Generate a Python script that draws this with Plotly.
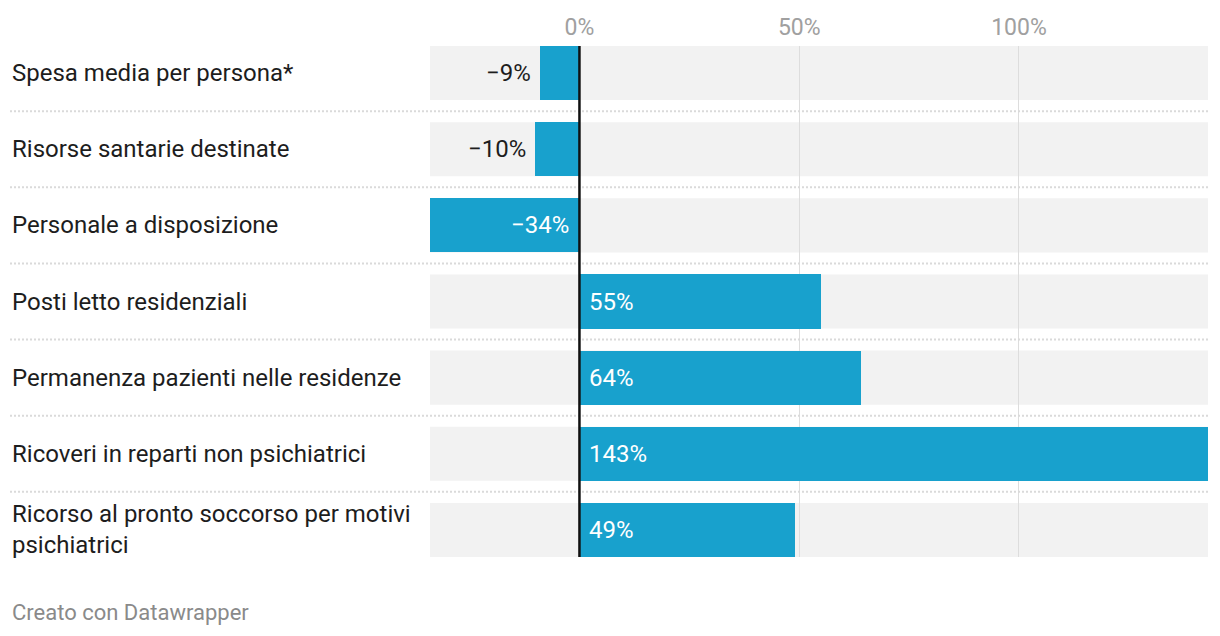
import plotly.graph_objects as go

categories = [
    "Spesa media per persona*",
    "Risorse santarie destinate",
    "Personale a disposizione",
    "Posti letto residenziali",
    "Permanenza pazienti nelle residenze",
    "Ricoveri in reparti non psichiatrici",
    "Ricorso al pronto soccorso per motivi<br>psichiatrici",
]
values = [-9, -10, -34, 55, 64, 143, 49]
tick_vals = [0, 50, 100]
tick_text = ["0%", "50%", "100%"]

BLUE = "#18a1cd"
FONT = "Roboto"
XMIN, XMAX = -34, 143
BW = 54 / 76

W, H = 1220, 636
ML, MR, MT, MB = 430, 12, 46, 79
pw = W - ML - MR
left_paper = (10 - ML) / pw
label_paper = (10 - ML) / pw

idx = list(range(len(categories)))

fig = go.Figure()
fig.add_trace(go.Bar(
    x=values, y=idx, orientation="h", width=BW,
    marker=dict(color=BLUE, line=dict(width=0)),
    hoverinfo="skip", showlegend=False,
))

shapes = []
annotations = []
for i, (c, v) in enumerate(zip(categories, values)):
    shapes.append(dict(type="rect", layer="below", xref="paper", yref="y",
                       x0=0, x1=1, y0=i - BW / 2, y1=i + BW / 2,
                       fillcolor="#f2f2f2", line=dict(width=0)))
    annotations.append(dict(text=c, xref="paper", yref="y", x=label_paper, y=i,
                            xanchor="left", yanchor="middle", align="left", showarrow=False,
                            font=dict(family=FONT, size=24, color="#1d1d1d")))
    txt = ("\u2212" + str(abs(v)) if v < 0 else str(v)) + "%"
    if v >= 0:
        annotations.append(dict(text=txt, x=0, y=i, xref="x", yref="y", xanchor="left",
                                xshift=8, showarrow=False,
                                font=dict(family=FONT, size=24, color="white")))
    elif abs(v) > 20:
        annotations.append(dict(text=txt, x=0, y=i, xref="x", yref="y", xanchor="right",
                                xshift=-8, showarrow=False,
                                font=dict(family=FONT, size=24, color="white")))
    else:
        annotations.append(dict(text=txt, x=v, y=i, xref="x", yref="y", xanchor="right",
                                xshift=-7, showarrow=False,
                                font=dict(family=FONT, size=24, color="#1d1d1d")))

for i in idx[:-1]:
    shapes.append(dict(type="line", layer="above", xref="paper", yref="y",
                       x0=left_paper, x1=1, y0=i + 0.5, y1=i + 0.5,
                       line=dict(color="#dadada", width=2, dash="2px,2px")))

shapes.append(dict(type="line", layer="above", xref="x", yref="y",
                   x0=0, x1=0, y0=-BW / 2, y1=len(categories) - 1 + BW / 2,
                   line=dict(color="#111111", width=2.5)))

annotations.append(dict(text="Creato con Datawrapper", xref="paper", yref="paper",
                        x=left_paper, y=-(612 - (H - MB)) / (H - MT - MB),
                        xanchor="left", yanchor="middle", showarrow=False,
                        font=dict(family=FONT, size=22, color="#8a8a8a")))

fig.update_layout(
    width=W, height=H,
    margin=dict(l=ML, r=MR, t=MT, b=MB),
    paper_bgcolor="white", plot_bgcolor="rgba(0,0,0,0)",
    font=dict(family=FONT),
    bargap=0,
    shapes=shapes, annotations=annotations,
    xaxis=dict(range=[XMIN, XMAX], side="top", tickvals=tick_vals, ticktext=tick_text,
               showgrid=True, gridcolor="#dddddd", gridwidth=1, zeroline=False,
               ticks="outside", ticklen=1, tickcolor="rgba(0,0,0,0)",
               tickfont=dict(family=FONT, size=23, color="#a0a0a0"),
               fixedrange=True, showline=False),
    yaxis=dict(range=[len(categories) - 1 + BW / 2, -BW / 2], showticklabels=False,
               showgrid=False, zeroline=False, fixedrange=True, showline=False),
)

fig.write_html("out.html", config={"displayModeBar": False},
               post_script="document.body.style.margin='0';document.body.style.padding='0';")
